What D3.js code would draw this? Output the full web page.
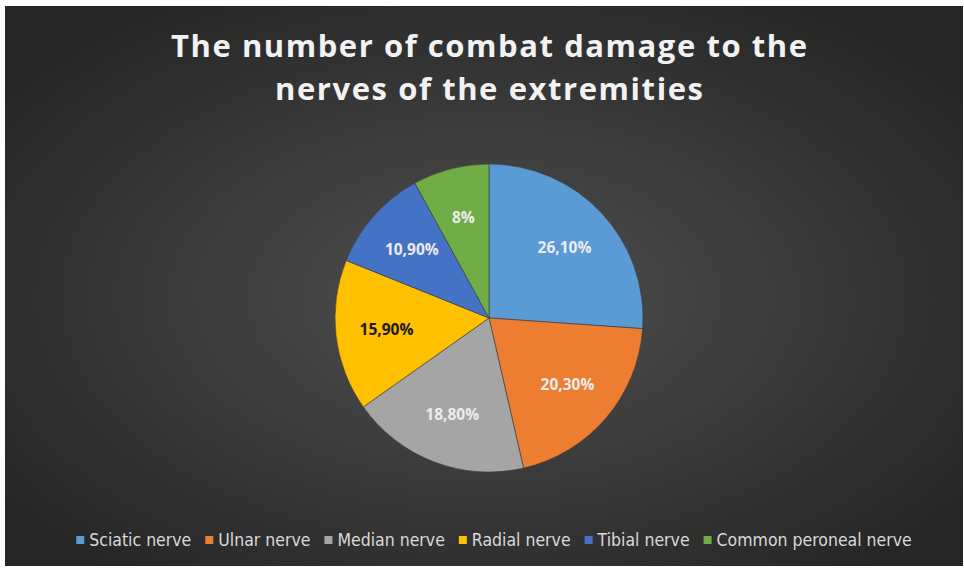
<!DOCTYPE html>
<html>
<head>
<meta charset="utf-8">
<script src="https://cdn.jsdelivr.net/npm/d3@7"></script>
<style>
  html, body { margin: 0; padding: 0; background: #fff; }
  svg { display: block; }
</style>
</head>
<body>
<div id="app"></div>
<script>
const categories = ['Sciatic nerve', 'Ulnar nerve', 'Median nerve', 'Radial nerve', 'Tibial nerve', 'Common peroneal nerve'];
const values = [26.1, 20.3, 18.8, 15.9, 10.9, 8];
const labels = ['26,10%', '20,30%', '18,80%', '15,90%', '10,90%', '8%'];
const colors = ['#5b9bd5', '#ed7d31', '#a5a5a5', '#ffc000', '#4472c4', '#70ad47'];
const titleLines = ['The number of combat damage to the', 'nerves of the extremities'];

const conf = {
  width: 964,
  height: 568,
  cx: 489,
  cy: 318,
  r: 154
};

const svg = d3.select('#app').append('svg')
  .attr('width', conf.width)
  .attr('height', conf.height);

const defs = svg.append('defs');
const grad = defs.append('radialGradient')
  .attr('id', 'bg')
  .attr('cx', '50%').attr('cy', '52%').attr('r', '62%');
grad.append('stop').attr('offset', '0%').attr('stop-color', '#505050');
grad.append('stop').attr('offset', '100%').attr('stop-color', '#262626');

svg.append('rect')
  .attr('x', 5).attr('y', 6)
  .attr('width', 958).attr('height', 560)
  .attr('fill', 'url(#bg)');

// title
svg.append('g')
  .selectAll('text')
  .data(titleLines)
  .enter()
  .append('text')
  .attr('x', 489)
  .attr('y', (d, i) => 57 + i * 43)
  .attr('text-anchor', 'middle')
  .attr('textLength', (d, i) => i === 0 ? 636 : 428)
  .attr('lengthAdjust', 'spacing')
  .style('font-family', '"Open Sans", sans-serif')
  .style('font-weight', 'bold')
  .style('font-size', '31px')
  .style('fill', '#f2f2f2')
  .text(d => d);

// pie
const data = categories.map((c, i) => ({ name: c, value: values[i], label: labels[i], color: colors[i] }));
const pie = d3.pie().value(d => d.value).sort(null);
const arc = d3.arc().innerRadius(0).outerRadius(conf.r);
const labelArc = d3.arc().innerRadius(conf.r * 0.67).outerRadius(conf.r * 0.67);

const g = svg.append('g').attr('transform', `translate(${conf.cx},${conf.cy})`);

g.selectAll('path')
  .data(pie(data))
  .enter()
  .append('path')
  .attr('d', arc)
  .attr('fill', d => d.data.color)
  .attr('stroke', '#3a3a3a')
  .attr('stroke-width', 0.6);

g.selectAll('text')
  .data(pie(data))
  .enter()
  .append('text')
  .attr('transform', d => `translate(${labelArc.centroid(d)})`)
  .attr('dy', '0.35em')
  .attr('text-anchor', 'middle')
  .style('font-family', '"Open Sans", sans-serif')
  .style('font-weight', 'bold')
  .style('font-size', '15.5px')
  .style('fill', d => d.data.name === 'Radial nerve' ? '#1a1a1a' : '#ececec')
  .text(d => d.data.label);

// legend
const legend = svg.append('g');
const items = legend.selectAll('g')
  .data(data)
  .enter()
  .append('g');

items.append('rect')
  .attr('width', 8).attr('height', 8)
  .attr('y', -10)
  .attr('fill', d => d.color);

items.append('text')
  .attr('x', 13)
  .attr('y', 0)
  .style('font-family', '"DejaVu Sans Condensed", "Liberation Sans Narrow", sans-serif')
  .style('font-size', '17.5px')
  .style('fill', '#d9d9d9')
  .text(d => d.name);

const gap = 14;
let xPos = 0;
items.each(function() {
  const w = this.getBBox().width;
  d3.select(this).attr('data-x', xPos);
  xPos += w + gap;
});
const total = xPos - gap;
const startX = 494 - total / 2;
items.attr('transform', function() {
  return `translate(${startX + (+d3.select(this).attr('data-x'))},546)`;
});
</script>
</body>
</html>
